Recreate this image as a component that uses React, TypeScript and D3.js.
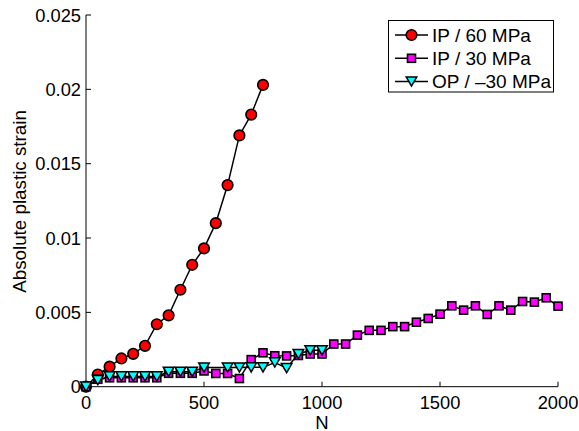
import React from "react";
import * as d3 from "d3";

const N_IP60 = [0, 50, 100, 150, 200, 250, 300, 350, 400, 450, 500, 550, 600, 650, 700, 750];
const IP60 = [0, 0.00082, 0.00135, 0.0019, 0.00221, 0.00275, 0.0042, 0.0048, 0.00652, 0.0082, 0.0093, 0.011, 0.01356, 0.0169, 0.0183, 0.0203];

const N_IP30 = [0, 50, 100, 150, 200, 250, 300, 350, 400, 450, 500, 550, 600, 650, 700, 750, 800, 850, 900, 950, 1000,
  1050, 1100, 1150, 1200, 1250, 1300, 1350, 1400, 1450, 1500, 1550, 1600, 1650, 1700, 1750, 1800, 1850, 1900, 1950, 2000];
const IP30 = [0, 0.0005, 0.0006, 0.0006, 0.0006, 0.0006, 0.0006, 0.0009, 0.0009, 0.0009, 0.00106, 0.00089, 0.00089, 0.00055,
  0.00182, 0.00228, 0.00208, 0.00207, 0.0021, 0.0022, 0.0022,
  0.00287, 0.00287, 0.00347, 0.00379, 0.00379, 0.00404, 0.00404, 0.00434, 0.00459, 0.00488,
  0.00544, 0.00515, 0.00544, 0.00486, 0.00544, 0.00515, 0.00573, 0.00569, 0.00598, 0.00542];

const N_OP30 = [0, 50, 100, 150, 200, 250, 300, 350, 400, 450, 500, 600, 650, 700, 750, 800, 850, 900, 950, 1000];
const OP30 = [0, 0.00044, 0.00069, 0.00069, 0.00069, 0.00069, 0.00069, 0.001, 0.001, 0.001, 0.00129,
  0.00129, 0.00129, 0.0013, 0.0013, 0.00163, 0.00125, 0.0022, 0.00245, 0.00245];

const X_TICKS = [0, 500, 1000, 1500, 2000];
const Y_TICKS = [0, 0.005, 0.01, 0.015, 0.02, 0.025];
const Y_TICK_LABELS = ["0", "0.005", "0.01", "0.015", "0.02", "0.025"];
const LEGEND = ["IP / 60 MPa", "IP / 30 MPa", "OP / \u201330 MPa"];

const FONT = "'Liberation Sans', Arial, Helvetica, sans-serif";

const x = d3.scaleLinear().domain([0, 2000]).range([86, 558]);
const y = d3.scaleLinear().domain([0, 0.025]).range([386.7, 15]);

function pts(ns: number[], vs: number[]): [number, number][] {
  return ns.map((n, i) => [n, vs[i]]);
}

const line = d3.line<[number, number]>().x((d) => x(d[0])).y((d) => y(d[1]));

function Circle({ cx, cy }: { cx: number; cy: number }) {
  return <circle cx={cx} cy={cy} r={5.3} fill="#ff0000" stroke="#000" strokeWidth={1.6} />;
}
function Square({ cx, cy }: { cx: number; cy: number }) {
  const s = 8;
  return <rect x={cx - s / 2} y={cy - s / 2} width={s} height={s} fill="#ff00ff" stroke="#000" strokeWidth={1.6} />;
}
function Tri({ cx, cy }: { cx: number; cy: number }) {
  const w = 5.3, h = 4.6;
  return (
    <path
      d={`M${cx - w},${cy - h}L${cx + w},${cy - h}L${cx},${cy + h}Z`}
      fill="#00ffff"
      stroke="#000"
      strokeWidth={1.5}
      strokeLinejoin="miter"
    />
  );
}

export default function App() {
  const ip60 = pts(N_IP60, IP60);
  const ip30 = pts(N_IP30, IP30);
  const op30 = pts(N_OP30, OP30);
  const legendRows = [35, 58.3, 81.5];
  return (
    <svg
      width={579}
      height={431}
      style={{ position: "absolute", left: 0, top: 0, background: "#fff" }}
      fontFamily={FONT}
    >
      <rect x={0} y={0} width={579} height={431} fill="#fff" />
      {/* axes */}
      <line x1={86} y1={y(0)} x2={558} y2={y(0)} stroke="#000" strokeWidth={1} />
      <line x1={86} y1={y(0)} x2={86} y2={y(0.025)} stroke="#000" strokeWidth={1} />
      {X_TICKS.map((t) => (
        <g key={"xt" + t}>
          <line x1={x(t)} x2={x(t)} y1={y(0)} y2={y(0) - 5} stroke="#000" strokeWidth={1} />
          <text x={x(t)} y={409} fontSize={18.3} textAnchor="middle" fill="#000">
            {t}
          </text>
        </g>
      ))}
      {Y_TICKS.map((t, i) => (
        <g key={"yt" + t}>
          <line x1={86} x2={91} y1={y(t)} y2={y(t)} stroke="#000" strokeWidth={1} />
          <text x={81} y={y(t) + 6.5} fontSize={18.3} textAnchor="end" fill="#000">
            {Y_TICK_LABELS[i]}
          </text>
        </g>
      ))}
      <text x={322} y={428.5} fontSize={18.5} textAnchor="middle" fill="#000">N</text>
      <text transform="translate(26,201.5) rotate(-90)" fontSize={18.8} textAnchor="middle" fill="#000">
        Absolute plastic strain
      </text>

      {/* series */}
      <path d={line(ip60) || ""} fill="none" stroke="#000" strokeWidth={1.5} />
      {ip60.map((d, i) => <Circle key={"c" + i} cx={x(d[0])} cy={y(d[1])} />)}
      <path d={line(ip30) || ""} fill="none" stroke="#000" strokeWidth={1.5} />
      {ip30.map((d, i) => <Square key={"s" + i} cx={x(d[0])} cy={y(d[1])} />)}
      <path d={line(op30) || ""} fill="none" stroke="#000" strokeWidth={1.5} />
      {op30.map((d, i) => <Tri key={"t" + i} cx={x(d[0])} cy={y(d[1])} />)}

      {/* legend */}
      <rect x={388.5} y={20.5} width={165} height={71.5} fill="#fff" stroke="#000" strokeWidth={1} />
      {LEGEND.map((lab, i) => (
        <g key={"lg" + i}>
          <line x1={395} x2={428} y1={legendRows[i]} y2={legendRows[i]} stroke="#000" strokeWidth={1.5} />
          {i === 0 && <Circle cx={411.5} cy={legendRows[i]} />}
          {i === 1 && <Square cx={411.5} cy={legendRows[i]} />}
          {i === 2 && <Tri cx={411.5} cy={legendRows[i]} />}
          <text x={432} y={legendRows[i] + 6.7} fontSize={19} fill="#000">
            {lab}
          </text>
        </g>
      ))}
    </svg>
  );
}
